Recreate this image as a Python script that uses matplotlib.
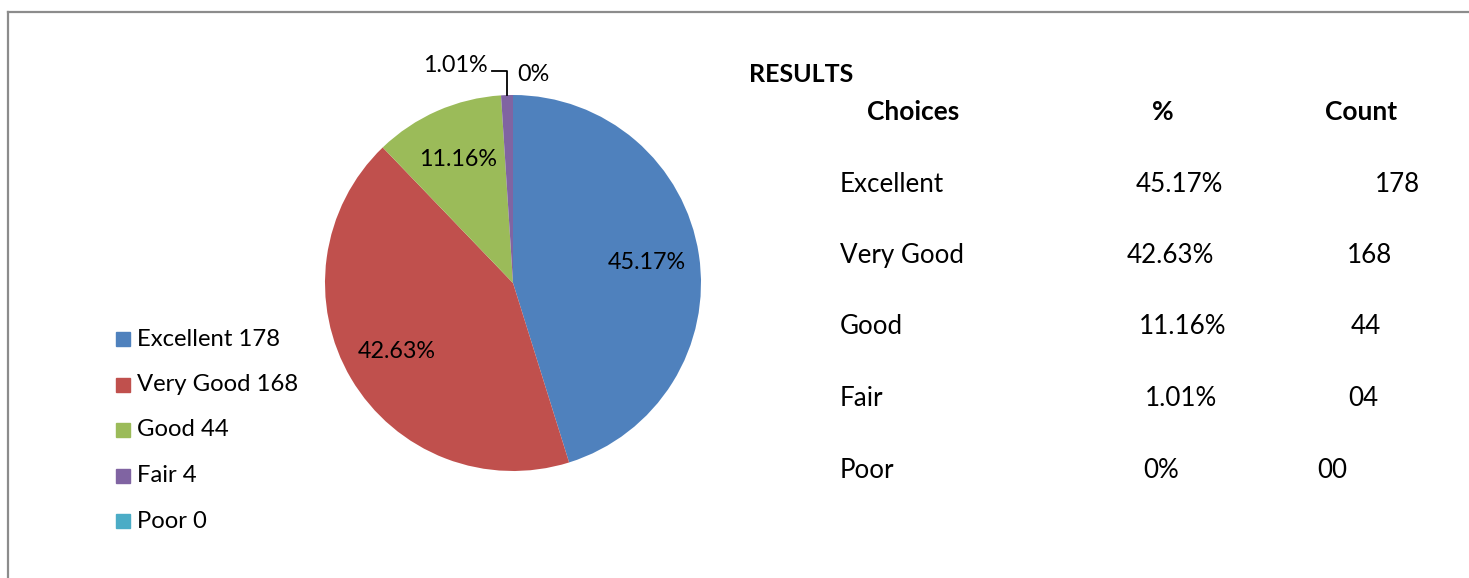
import matplotlib.pyplot as plt
import numpy as np
from matplotlib.lines import Line2D

# data
choices = ["Excellent", "Very Good", "Good", "Fair", "Poor"]
counts = [178, 168, 44, 4, 0]
pct_text = ["45.17%", "42.63%", "11.16%", "1.01%", "0%"]
count_text = ["178", "168", "44", "04", "00"]

colors = ["#4F81BD", "#C0504D", "#9BBB59", "#8064A2", "#4BACC6"]
plt.rcParams['font.family'] = ['Lato', 'DejaVu Sans']

W, H = 1469, 578
fig = plt.figure(figsize=(W / 100, H / 100), dpi=100)


def px(x, y):
    return x / W, 1 - y / H


# outer frame (top and left edges only visible)
fig.add_artist(Line2D([8 / W, 1], [1 - 12 / H, 1 - 12 / H], color="#8c8c8c", lw=1.6))
fig.add_artist(Line2D([8 / W, 8 / W], [0, 1 - 12 / H], color="#8c8c8c", lw=1.6))

# pie
cx, cy, r = 513, 283, 188
ax = fig.add_axes([(cx - r) / W, (H - cy - r) / H, 2 * r / W, 2 * r / H])
wedges, _ = ax.pie(counts, colors=colors, startangle=90, counterclock=False,
                   wedgeprops=dict(linewidth=0))
ax.set_xlim(-1, 1)
ax.set_ylim(-1, 1)
ax.set_aspect("auto")
ax.axis("off")

for i, w in enumerate(wedges):
    mid = np.deg2rad((w.theta1 + w.theta2) / 2)
    if i < 3:
        ax.text(0.72 * np.cos(mid), 0.72 * np.sin(mid), pct_text[i],
                ha="center", va="center", fontsize=16.8)
    elif i == 3:
        x0, y0 = np.cos(mid), np.sin(mid)
        ax.plot([x0, x0, x0 - 0.08], [y0, 1.13, 1.13], color="black", lw=1.3,
                clip_on=False)
        ax.text(x0 - 0.1, 1.155, pct_text[i], ha="right", va="center", fontsize=16.8)
    else:
        ax.text(0.11, 1.11, pct_text[i], ha="center", va="center", fontsize=16.8)

# legend
for i, name in enumerate(choices):
    y = 339 + i * 45.5
    fig.patches.append(plt.Rectangle(px(116, y + 7), 14 / W, 14 / H, color=colors[i],
                                     transform=fig.transFigure))
    fig.text(*px(137, y), f"{name} {counts[i]}", ha="left", va="center", fontsize=17.2)

# results table
fig.text(*px(749, 75), "RESULTS", ha="left", va="center", fontsize=18, fontweight="bold")
fig.text(*px(913, 112), "Choices", ha="center", va="center", fontsize=19, fontweight="bold")
fig.text(*px(1163, 112), "%", ha="center", va="center", fontsize=19, fontweight="bold")
fig.text(*px(1361, 112), "Count", ha="center", va="center", fontsize=19, fontweight="bold")

pct_x = [1179, 1170, 1183, 1181, 1161]
count_x = [1397, 1369, 1366, 1363, 1332]
for i, name in enumerate(choices):
    y = 184 + i * 71.5
    fig.text(*px(840, y), name, ha="left", va="center", fontsize=18.7)
    fig.text(*px(pct_x[i], y), pct_text[i], ha="center", va="center", fontsize=18.7)
    fig.text(*px(count_x[i], y), count_text[i], ha="center", va="center", fontsize=18.7)

fig.savefig("out.png", dpi=100)
